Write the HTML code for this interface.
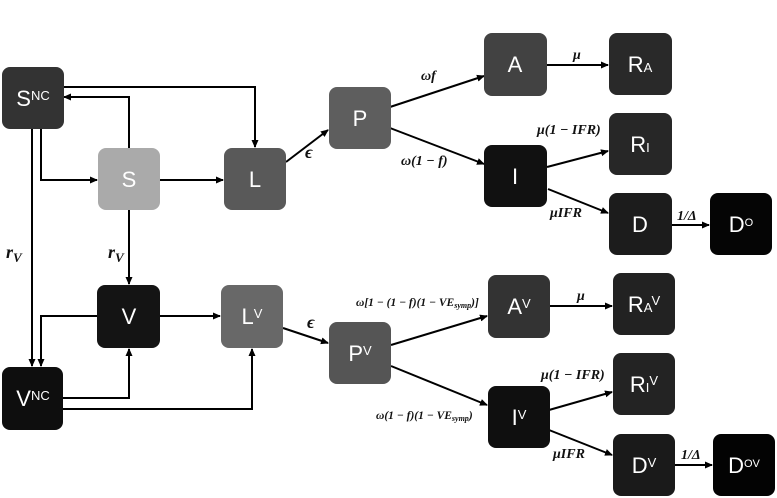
<!DOCTYPE html>
<html><head><meta charset="utf-8"><style>
html,body{margin:0;padding:0;background:#fff;}
svg{display:block;}
.n{font-family:"Liberation Sans",sans-serif;fill:#fff;font-size:22px;}
.s{font-size:13px;}
.l{font-family:"Liberation Serif",serif;font-style:italic;font-weight:bold;fill:#111;font-size:14px;}
</style></head><body>
<svg width="777" height="498" viewBox="0 0 777 498" xmlns="http://www.w3.org/2000/svg">
<defs><marker id="a" markerWidth="8" markerHeight="8" refX="7" refY="4" orient="auto" markerUnits="userSpaceOnUse"><path d="M0,0.5 L8,4 L0,7.5z" fill="#000"/></marker></defs>
<g stroke="#000" stroke-width="2" fill="none" marker-end="url(#a)">
<path d="M63,87 H255 V147"/>
<path d="M129,148 V97 H64"/>
<path d="M41,129 V180 H97"/>
<path d="M160,180 H223"/>
<path d="M32,129 V366"/>
<path d="M129,210 V284"/>
<path d="M97,316 H41 V366"/>
<path d="M160,316 H220"/>
<path d="M63,398 H129 V349"/>
<path d="M63,409 H252 V349"/>
<path d="M286,162 L328,130"/>
<path d="M283,328 L328,343"/>
<path d="M390,107 L484,76"/>
<path d="M390,128 L484,164"/>
<path d="M547,65 L608,65"/>
<path d="M547,167 L608,151"/>
<path d="M548,189 L608,213"/>
<path d="M672,225 L709,225"/>
<path d="M391,345 L487,316"/>
<path d="M391,366 L487,405"/>
<path d="M549,306 L612,306"/>
<path d="M549,410 L612,392"/>
<path d="M549,430 L612,455"/>
<path d="M675,465 L712,465"/>
</g>
<g>
<rect x="2" y="67" width="62" height="62" rx="8" fill="#333"/>
<rect x="98" y="148" width="62" height="62" rx="8" fill="#aaa"/>
<rect x="224" y="148" width="62" height="62" rx="8" fill="#595959"/>
<rect x="329" y="87" width="62" height="62" rx="8" fill="#5e5e5e"/>
<rect x="484" y="33" width="63" height="63" rx="8" fill="#424242"/>
<rect x="609" y="33" width="63" height="62" rx="8" fill="#292929"/>
<rect x="484" y="145" width="63" height="62" rx="8" fill="#111"/>
<rect x="609" y="113" width="63" height="62" rx="8" fill="#272727"/>
<rect x="609" y="193" width="63" height="62" rx="8" fill="#1c1c1c"/>
<rect x="710" y="193" width="62" height="62" rx="8" fill="#050505"/>
<rect x="97" y="285" width="63" height="63" rx="8" fill="#141414"/>
<rect x="221" y="285" width="62" height="63" rx="8" fill="#686868"/>
<rect x="329" y="322" width="62" height="62" rx="8" fill="#555"/>
<rect x="2" y="367" width="61" height="63" rx="8" fill="#0e0e0e"/>
<rect x="488" y="275" width="62" height="63" rx="8" fill="#333"/>
<rect x="613" y="273" width="62" height="62" rx="8" fill="#222"/>
<rect x="613" y="353" width="62" height="62" rx="8" fill="#232323"/>
<rect x="488" y="386" width="62" height="62" rx="8" fill="#0f0f0f"/>
<rect x="613" y="434" width="62" height="62" rx="8" fill="#1a1a1a"/>
<rect x="713" y="434" width="62" height="62" rx="8" fill="#030303"/>
</g>
<g class="n" text-anchor="middle">
<text x="33" y="106">S<tspan class="s" dy="-6">NC</tspan></text>
<text x="129" y="187">S</text>
<text x="255" y="187">L</text>
<text x="360" y="126">P</text>
<text x="515" y="72">A</text>
<text x="640" y="72">R<tspan class="s">A</tspan></text>
<text x="515" y="184">I</text>
<text x="640" y="152">R<tspan class="s">I</tspan></text>
<text x="640" y="232">D</text>
<text x="741" y="232">D<tspan font-size="11" dy="-6">O</tspan></text>
<text x="129" y="324">V</text>
<text x="252" y="324">L<tspan class="s" dy="-6">V</tspan></text>
<text x="360" y="361">P<tspan class="s" dy="-6">V</tspan></text>
<text x="33" y="406">V<tspan class="s" dy="-6">NC</tspan></text>
<text x="519" y="314">A<tspan class="s" dy="-6">V</tspan></text>
<text x="644" y="312">R<tspan class="s">A</tspan><tspan class="s" dy="-7">V</tspan></text>
<text x="519" y="425">I<tspan class="s" dy="-6">V</tspan></text>
<text x="644" y="392">R<tspan class="s">I</tspan><tspan class="s" dy="-7">V</tspan></text>
<text x="644" y="473">D<tspan class="s" dy="-6">V</tspan></text>
<text x="744" y="473">D<tspan font-size="11" dy="-6">OV</tspan></text>
</g>
<g class="l">
<text x="6" y="258" font-size="18">r<tspan font-size="13" dy="4">V</tspan></text>
<text x="108" y="258" font-size="18">r<tspan font-size="13" dy="4">V</tspan></text>
<text x="305" y="158" font-size="18">ϵ</text>
<text x="307" y="328" font-size="18">ϵ</text>
<text x="421" y="80">ωf</text>
<text x="401" y="165">ω(1 − f)</text>
<text x="573" y="59">μ</text>
<text x="537" y="134">μ(1 − IFR)</text>
<text x="550" y="217">μIFR</text>
<text x="677" y="220">1/Δ</text>
<text x="356" y="306" font-size="11.5">ω[1 − (1 − f)(1 − VE<tspan font-size="8" dy="2">symp</tspan><tspan dy="-2">)]</tspan></text>
<text x="376" y="419" font-size="11.5">ω(1 − f)(1 − VE<tspan font-size="8" dy="2">symp</tspan><tspan dy="-2">)</tspan></text>
<text x="577" y="300">μ</text>
<text x="541" y="379">μ(1 − IFR)</text>
<text x="553" y="458">μIFR</text>
<text x="681" y="459">1/Δ</text>
</g>
</svg>
</body></html>
